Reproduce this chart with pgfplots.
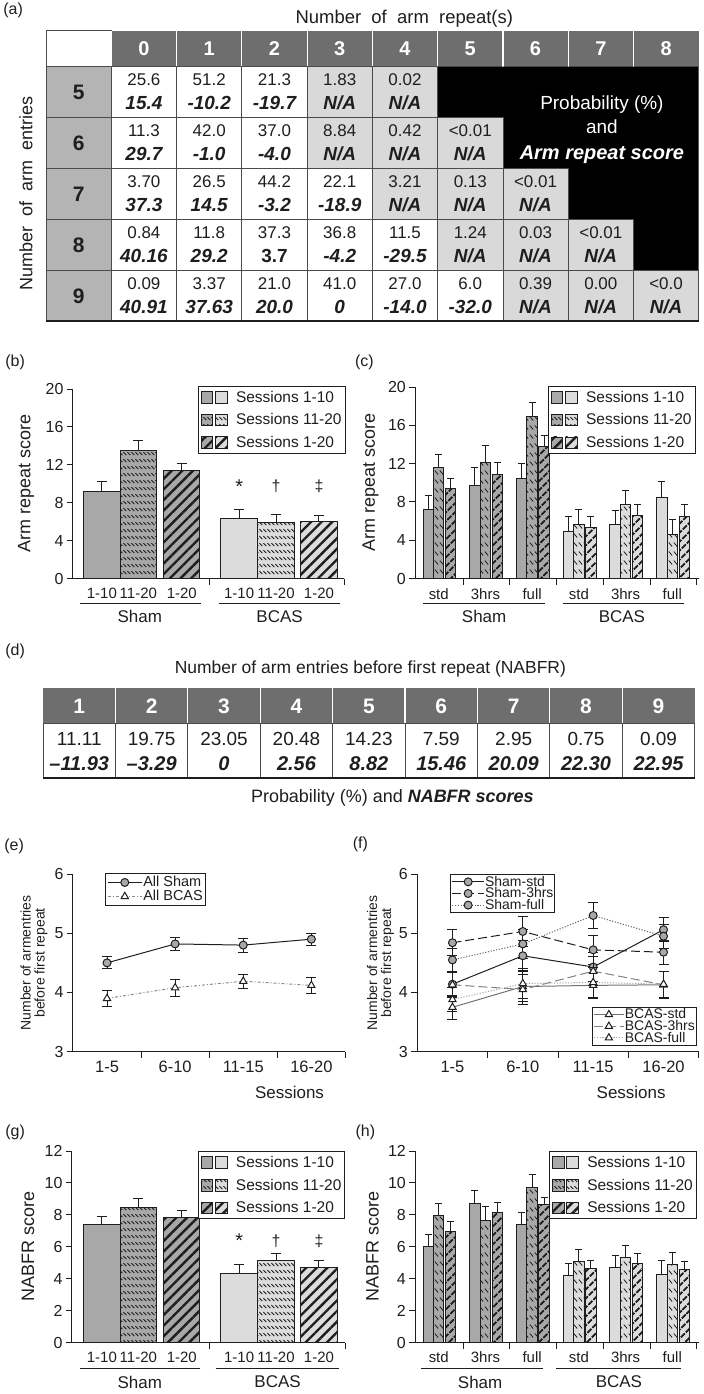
\documentclass[border=0pt]{standalone}
\usepackage{fontspec}
\setmainfont{Liberation Sans}
\usepackage{graphicx}
\usepackage{pgfplots}
\pgfplotsset{compat=1.18}
\usetikzlibrary{patterns,patterns.meta}

\definecolor{shamgray}{HTML}{A8A8A8}
\definecolor{bcasgray}{HTML}{DCDCDC}
\definecolor{hdrgray}{HTML}{6E6E6E}
\definecolor{rowgray}{HTML}{B4B4B4}
\definecolor{nagray}{HTML}{D9D9D9}
\definecolor{ink}{HTML}{1E1E1E}

\tikzdeclarepattern{name=dashhatch, type=uncolored,
  bounding box={(0pt,0pt) and (4pt,7pt)}, tile size={(4pt,7pt)},
  code={\draw[line width=0.8pt] (0.5pt,5.8pt) -- (3.3pt,3pt);}}
\tikzdeclarepattern{name=dashhatchN, type=uncolored,
  bounding box={(0pt,0pt) and (5pt,9pt)}, tile size={(5pt,9pt)},
  code={\draw[line width=0.8pt] (0.8pt,7.5pt) -- (4.2pt,3.5pt);}}

\newcommand\fsz[1]{\fontsize{#1}{#1}\selectfont}
\newcommand\aReg{\fsz{17}}
\newcommand\aBI{\fsz{19}\bfseries\itshape}

\tikzset{
  h2/.style={postaction={pattern=dashhatch, pattern color=ink}},
  h2n/.style={postaction={pattern=dashhatchN, pattern color=ink}},
  h3/.style={postaction={pattern={Lines[angle=45,distance=7.5pt,line width=2.4pt]}, pattern color=ink}},
  h3n/.style={postaction={pattern={Lines[angle=45,distance=6.5pt,line width=2.2pt]}, pattern color=ink}},
}

\pgfplotsset{
  /pgf/number format/assume math mode=true,
  base/.style={scale only axis, clip=false, at={(0pt,0pt)}, anchor=south west,
    axis x line*=bottom, axis y line*=left,
    axis line style={-, line width=1pt, draw=ink},
    tick align=outside, major tick length=6pt,
    ytick style={line width=1pt, draw=ink},
    xtick style={draw=none},
    tick label style={font=\fsz{16}, text=ink},
    ylabel style={font=\fsz{18}, text=ink},
    legend cell align=left},
  bl/.style={ybar, bar shift=0pt, draw=ink, line width=1pt, forget plot,
    error bars/y dir=plus, error bars/y explicit,
    error bars/error bar style={line width=1pt, draw=ink, solid},
    error bars/error mark options={rotate=90, mark size=#1, line width=1pt, draw=ink, solid}},
  eb/.style={error bars/y dir=both, error bars/y explicit,
    error bars/error bar style={line width=1pt, draw=#1, solid},
    error bars/error mark options={rotate=90, mark size=5pt, line width=1pt, draw=#1, solid}},
  barleg/.style={legend style={draw=ink, line width=1pt, font=\fsz{15.5}, text=ink,
    inner xsep=2pt, inner ysep=3pt, row sep=7pt, nodes={inner sep=1.5pt},
    /tikz/every odd column/.append style={column sep=7pt}}},
}

\newcommand\legsw[1]{\addlegendimage{legend image code/.code={%
   \draw[fill=shamgray,draw=ink,line width=0.9pt,#1] (0pt,-5.8pt) rectangle (11.7pt,5.8pt);
   \draw[fill=bcasgray,draw=ink,line width=0.9pt,#1] (14.3pt,-5.8pt) rectangle (26pt,5.8pt);}}}

\newcommand\acell[5]{%
  \draw[fill=#3, draw=ink!80, line width=0.8pt] ({43+65.4*#1},{-64-51*#2}) rectangle ++(65.4,-51);
  \node[anchor=base, font=\aReg, text=ink, inner sep=0pt] at ({75.7+65.4*#1},{-64-51*#2-19}) {#4};
  \node[anchor=base, font=\aBI, text=ink, inner sep=0pt] at ({75.7+65.4*#1},{-64-51*#2-43}) {#5};
}

\begin{document}
\begin{tikzpicture}[x=1pt,y=1pt]
\path (0,0) rectangle (702,-1394);

% ================= (a) =================
\node[font=\fsz{16}, text=ink] at (10,-8) {(a)};
\node[anchor=base, font=\fsz{18.5}, text=ink] at (402,-21) {Number \ of \ arm \ repeat(s)};
\node[rotate=90, font=\fsz{18}, text=ink] at (23,-191) {Number \ of \ arm \ entries};
\fill[hdrgray] (108.4,-28) rectangle (697,-64);
\draw[ink!80, line width=0.8pt] (43,-28) rectangle (108.4,-64);
\foreach \i in {0,...,8} {
  \draw[white, line width=1.2pt] ({108.4+65.4*\i},-28) -- ++(0,-36);
  \node[anchor=base, text=white, font=\fsz{20}\bfseries, inner sep=0pt] at ({141.1+65.4*\i},-53) {\i};
}
\foreach \r/\lab in {0/5,1/6,2/7,3/8,4/9} {
  \draw[fill=rowgray, draw=ink!80, line width=0.8pt] (43,{-64-51*\r}) rectangle (108.4,{-115-51*\r});
  \node[anchor=base, font=\fsz{21}\bfseries, text=ink, inner sep=0pt] at (75.7,{-64-51*\r-33}) {\lab};
}
\fill[black] (435.4,-64) -- (697,-64) -- (697,-268) -- (631.6,-268) -- (631.6,-217) -- (566.2,-217)
  -- (566.2,-166) -- (500.8,-166) -- (500.8,-115) -- (435.4,-115) -- cycle;
\node[anchor=base, text=white, font=\fsz{19}] at (600,-107) {Probability (\%)};
\node[anchor=base, text=white, font=\fsz{19}] at (600,-131) {and};
\node[anchor=base, text=white, font=\fsz{20}\bfseries\itshape] at (600,-157) {Arm repeat score};
\acell{1}{0}{white}{25.6}{15.4}
\acell{2}{0}{white}{51.2}{-10.2}
\acell{3}{0}{white}{21.3}{-19.7}
\acell{4}{0}{nagray}{1.83}{N/A}
\acell{5}{0}{nagray}{0.02}{N/A}
\acell{1}{1}{white}{11.3}{29.7}
\acell{2}{1}{white}{42.0}{-1.0}
\acell{3}{1}{white}{37.0}{-4.0}
\acell{4}{1}{nagray}{8.84}{N/A}
\acell{5}{1}{nagray}{0.42}{N/A}
\acell{6}{1}{nagray}{<0.01}{N/A}
\acell{1}{2}{white}{3.70}{37.3}
\acell{2}{2}{white}{26.5}{14.5}
\acell{3}{2}{white}{44.2}{-3.2}
\acell{4}{2}{white}{22.1}{-18.9}
\acell{5}{2}{nagray}{3.21}{N/A}
\acell{6}{2}{nagray}{0.13}{N/A}
\acell{7}{2}{nagray}{<0.01}{N/A}
\acell{1}{3}{white}{0.84}{40.16}
\acell{2}{3}{white}{11.8}{29.2}
\acell{3}{3}{white}{37.3}{\upshape 3.7}
\acell{4}{3}{white}{36.8}{-4.2}
\acell{5}{3}{white}{11.5}{-29.5}
\acell{6}{3}{nagray}{1.24}{N/A}
\acell{7}{3}{nagray}{0.03}{N/A}
\acell{8}{3}{nagray}{<0.01}{N/A}
\acell{1}{4}{white}{0.09}{40.91}
\acell{2}{4}{white}{3.37}{37.63}
\acell{3}{4}{white}{21.0}{20.0}
\acell{4}{4}{white}{41.0}{0}
\acell{5}{4}{white}{27.0}{-14.0}
\acell{6}{4}{white}{6.0}{-32.0}
\acell{7}{4}{nagray}{0.39}{N/A}
\acell{8}{4}{nagray}{0.00}{N/A}
\acell{9}{4}{nagray}{<0.0}{N/A}
\draw[ink, line width=1.6pt] (43,-319) -- (697,-319);

% ================= (b) =================
\node[font=\fsz{16}, text=ink] at (12,-360) {(b)};
\begin{scope}[shift={(70pt,-577pt)}]
\begin{axis}[base, width=272pt, height=190pt,
  xmin=70, xmax=342, ymin=0, ymax=20, ytick={0,4,8,12,16,20},
  xtick={99,135.5,179,236.5,273.5,316.5},
  xticklabels={1-10,11-20,1-20,1-10,11-20,1-20},
  xticklabel style={font=\fsz{15}},
  ylabel={Arm repeat score}, ylabel style={at={(axis description cs:-0.173,0.5)}, anchor=center},
  barleg, legend style={at={(1.004,1.016)}, anchor=north east},
  bar width=36.5]
\addplot[fill=shamgray, bl=5pt] coordinates {(99,9.2) +- (0,1.0)};
\addplot[fill=shamgray, h2, bl=5pt] coordinates {(135.5,13.55) +- (0,1.0)};
\addplot[fill=shamgray, h3, bl=5pt] coordinates {(179,11.4) +- (0,0.7)};
\addplot[fill=bcasgray, bl=5pt] coordinates {(236.5,6.3) +- (0,1.0)};
\addplot[fill=bcasgray, h2, bl=5pt] coordinates {(273.5,5.9) +- (0,0.9)};
\addplot[fill=bcasgray, h3, bl=5pt] coordinates {(316.5,6.0) +- (0,0.7)};
\legsw{}\addlegendentry{Sessions 1-10}
\legsw{h2}\addlegendentry{Sessions 11-20}
\legsw{h3}\addlegendentry{Sessions 1-20}
\node[anchor=base, font=\fsz{20}, text=ink] at (axis cs:236.5,9.0) {*};
\node[anchor=base, font=\fsz{16}, text=ink] at (axis cs:273.5,9.2) {†};
\node[anchor=base, font=\fsz{16}, text=ink] at (axis cs:316.5,9.2) {‡};
\end{axis}
\end{scope}
\draw[ink, line width=1pt] (207,-577) -- (207,-583) (342,-577) -- (342,-583);
\draw[ink, line width=1pt] (77,-602) -- (198,-602) (216,-602) -- (338,-602);
\node[font=\fsz{17}, text=ink] at (137,-615) {Sham};
\node[font=\fsz{17}, text=ink] at (277,-615) {BCAS};

% ================= (c) =================
\node[font=\fsz{16}, text=ink] at (362,-360) {(c)};
\begin{scope}[shift={(413pt,-577pt)}]
\begin{axis}[base, width=284pt, height=192pt,
  xmin=413, xmax=697, ymin=0, ymax=20, ytick={0,4,8,12,16,20},
  xtick={436.5,483.3,530.1,576.9,623.7,670.5},
  xticklabels={std,3hrs,full,std,3hrs,full},
  xticklabel style={font=\fsz{15}},
  ylabel={Arm repeat score}, ylabel style={at={(axis description cs:-0.158,0.5)}, anchor=center},
  barleg, legend style={at={(0.989,1.005)}, anchor=north east},
  bar width=10.5]
\addplot[fill=shamgray, bl=3.5pt] coordinates {(426,7.2) +- (0,1.5) (472.8,9.7) +- (0,1.9) (519.6,10.5) +- (0,1.5)};
\addplot[fill=shamgray, h2n, bl=3.5pt] coordinates {(436.5,11.6) +- (0,1.4) (483.3,12.1) +- (0,1.8) (530.1,16.9) +- (0,1.5)};
\addplot[fill=shamgray, h3n, bl=3.5pt] coordinates {(448.5,9.4) +- (0,1.1) (495.3,10.9) +- (0,1.2) (542.1,13.75) +- (0,1.15)};
\addplot[fill=bcasgray, bl=3.5pt] coordinates {(566.4,4.9) +- (0,1.6) (613.2,5.6) +- (0,1.5) (660,8.5) +- (0,1.6)};
\addplot[fill=bcasgray, h2n, bl=3.5pt] coordinates {(576.9,5.6) +- (0,1.6) (623.7,7.7) +- (0,1.5) (670.5,4.65) +- (0,1.55)};
\addplot[fill=bcasgray, h3n, bl=3.5pt] coordinates {(588.9,5.3) +- (0,1.2) (635.7,6.6) +- (0,1.1) (682.5,6.5) +- (0,1.2)};
\legsw{}\addlegendentry{Sessions 1-10}
\legsw{h2}\addlegendentry{Sessions 11-20}
\legsw{h3}\addlegendentry{Sessions 1-20}
\end{axis}
\end{scope}
\draw[ink, line width=1pt] (461,-577) -- (461,-583) (507.8,-577) -- (507.8,-583) (554.6,-577) -- (554.6,-583)
  (601.4,-577) -- (601.4,-583) (648.2,-577) -- (648.2,-583) (695,-577) -- (695,-583);
\draw[ink, line width=1pt] (421,-602) -- (543,-602) (561,-602) -- (682,-602);
\node[font=\fsz{17}, text=ink] at (482,-615) {Sham};
\node[font=\fsz{17}, text=ink] at (620,-615) {BCAS};

% ================= (d) =================
\node[font=\fsz{16}, text=ink] at (12,-650) {(d)};
\node[font=\fsz{17.5}, text=ink] at (368,-668) {Number of arm entries before first repeat (NABFR)};
\fill[hdrgray] (40,-687) rectangle (693,-722);
\draw[ink!80, line width=0.8pt] (40,-722) rectangle (693,-777);
\foreach \i/\pp/\ss in {1/11.11/–11.93, 2/19.75/–3.29, 3/23.05/0, 4/20.48/2.56, 5/14.23/8.82,
   6/7.59/15.46, 7/2.95/20.09, 8/0.75/22.30, 9/0.09/22.95} {
  \node[anchor=base, text=white, font=\fsz{21}\bfseries, inner sep=0pt] at ({3.725+72.55*\i},-712) {\i};
  \node[anchor=base, text=ink, font=\fsz{19}, inner sep=0pt] at ({3.725+72.55*\i},-744) {\pp};
  \node[anchor=base, text=ink, font=\fsz{20}\bfseries\itshape, inner sep=0pt] at ({3.725+72.55*\i},-769) {\ss};
}
\foreach \i in {1,...,8} {
  \draw[white, line width=1.2pt] ({40+72.55*\i},-687) -- ++(0,-35);
  \draw[ink!80, line width=0.8pt] ({40+72.55*\i},-722) -- ++(0,-55);
}
\draw[ink, line width=1.6pt] (40,-777) -- (693,-777);
\node[font=\fsz{18}, text=ink] at (390,-797) {Probability (\%) and \textbf{\textit{NABFR scores}}};

% ================= (e) =================
\node[font=\fsz{16}, text=ink] at (11,-845) {(e)};
\begin{scope}[shift={(70pt,-1051pt)}]
\begin{axis}[base, width=273pt, height=178pt,
  xmin=0, xmax=4, ymin=3, ymax=6, ytick={3,4,5,6},
  xtick={0.5,1.5,2.5,3.5}, xticklabels={1-5,6-10,11-15,16-20}, xticklabel style={font=\fsz{16.5}},
  ylabel={Number of armentries\\before first repeat},
  ylabel style={align=center, font=\fsz{14}, at={(axis description cs:-0.143,0.5)}, anchor=center},
  xlabel={Sessions}, xlabel style={font=\fsz{17}, text=ink, at={(axis description cs:0.795,0)}, anchor=center, yshift=-41pt},
  legend style={at={(0.117,1.006)}, anchor=north west, draw=ink, line width=1pt, font=\fsz{14.5}, text=ink,
    row sep=0pt, inner sep=2pt, nodes={inner sep=1pt}},
  legend image code/.code={\draw[mark repeat=2,mark phase=2,#1] plot coordinates {(0pt,0pt) (17pt,0pt) (34pt,0pt)};}]
\addplot[ink, line width=1pt, mark=*, mark size=4pt, mark options={fill=shamgray, draw=ink, solid}, eb=ink]
  coordinates {(0.5,4.5) +- (0,0.1) (1.5,4.82) +- (0,0.11) (2.5,4.8) +- (0,0.12) (3.5,4.9) +- (0,0.1)};
\addlegendentry{All Sham}
\addplot[black!45, line width=1pt, dash dot, mark=triangle*, mark size=4.2pt, mark options={fill=white, draw=ink, solid}, eb=ink]
  coordinates {(0.5,3.9) +- (0,0.14) (1.5,4.08) +- (0,0.14) (2.5,4.19) +- (0,0.12) (3.5,4.12) +- (0,0.13)};
\addlegendentry{All BCAS}
\end{axis}
\end{scope}
\draw[ink, line width=1pt] (138.25,-1051) -- ++(0,-6) (206.5,-1051) -- ++(0,-6) (274.75,-1051) -- ++(0,-6) (343,-1051) -- ++(0,-6);

% ================= (f) =================
\node[font=\fsz{16}, text=ink] at (358,-843) {(f)};
\begin{scope}[shift={(415pt,-1051pt)}]
\begin{axis}[base, width=282pt, height=178pt,
  xmin=0, xmax=4, ymin=3, ymax=6, ytick={3,4,5,6},
  xtick={0.5,1.5,2.5,3.5}, xticklabels={1-5,6-10,11-15,16-20}, xticklabel style={font=\fsz{16.5}},
  ylabel={Number of armentries\\before first repeat},
  ylabel style={align=center, font=\fsz{14}, at={(axis description cs:-0.131,0.5)}, anchor=center},
  xlabel={Sessions}, xlabel style={font=\fsz{17}, text=ink, at={(axis description cs:0.76,0)}, anchor=center, yshift=-41pt},
  legend style={at={(0.117,1.0)}, anchor=north west, draw=ink, line width=1pt, font=\fsz{14}, text=ink,
    row sep=-1pt, inner sep=1pt, nodes={inner sep=0.5pt}},
  legend image code/.code={\draw[mark repeat=2,mark phase=2,#1] plot coordinates {(0pt,0pt) (16pt,0pt) (32pt,0pt)};}]
\addplot[ink, line width=1pt, solid, mark=*, mark size=4pt, mark options={fill=shamgray, draw=ink, solid}, eb=ink]
  coordinates {(0.5,4.14) +- (0,0.2) (1.5,4.62) +- (0,0.25) (2.5,4.43) +- (0,0.25) (3.5,5.06) +- (0,0.2)};
\addlegendentry{Sham-std}
\addplot[ink, line width=1pt, dash pattern=on 9pt off 4pt, mark=*, mark size=4pt, mark options={fill=shamgray, draw=ink, solid}, eb=ink]
  coordinates {(0.5,4.84) +- (0,0.22) (1.5,5.03) +- (0,0.25) (2.5,4.72) +- (0,0.25) (3.5,4.68) +- (0,0.2)};
\addlegendentry{Sham-3hrs}
\addplot[black!60, line width=1pt, dash pattern=on 1.2pt off 1.6pt, mark=*, mark size=4pt, mark options={fill=shamgray, draw=ink, solid}, eb=ink]
  coordinates {(0.5,4.55) +- (0,0.2) (1.5,4.82) +- (0,0.25) (2.5,5.3) +- (0,0.22) (3.5,4.95) +- (0,0.2)};
\addlegendentry{Sham-full}
\end{axis}
\begin{axis}[base, hide axis, width=282pt, height=178pt,
  xmin=0, xmax=4, ymin=3, ymax=6,
  legend style={at={(0.993,0.034)}, anchor=south east, draw=ink, line width=1pt, font=\fsz{14}, text=ink,
    row sep=-1pt, inner sep=1pt, nodes={inner sep=0.5pt}},
  legend image code/.code={\draw[mark repeat=2,mark phase=2,#1] plot coordinates {(0pt,0pt) (15pt,0pt) (30pt,0pt)};}]
\addplot[black!55, line width=1pt, solid, mark=triangle*, mark size=4.2pt, mark options={fill=white, draw=ink, solid}, eb=ink]
  coordinates {(0.5,3.75) +- (0,0.2) (1.5,4.1) +- (0,0.25) (2.5,4.12) +- (0,0.22) (3.5,4.13) +- (0,0.23)};
\addlegendentry{BCAS-std}
\addplot[black!50, line width=1pt, dash pattern=on 9pt off 4pt, mark=triangle*, mark size=4.2pt, mark options={fill=white, draw=ink, solid}, eb=ink]
  coordinates {(0.5,4.13) +- (0,0.22) (1.5,4.05) +- (0,0.25) (2.5,4.36) +- (0,0.25) (3.5,4.13) +- (0,0.22)};
\addlegendentry{BCAS-3hrs}
\addplot[black!35, line width=1pt, dash pattern=on 1.2pt off 1.6pt, mark=triangle*, mark size=4.2pt, mark options={fill=white, draw=ink, solid}, eb=ink]
  coordinates {(0.5,3.88) +- (0,0.2) (1.5,4.15) +- (0,0.25) (2.5,4.17) +- (0,0.25) (3.5,4.14) +- (0,0.22)};
\addlegendentry{BCAS-full}
\end{axis}
\end{scope}
\draw[ink, line width=1pt] (485.5,-1051) -- ++(0,-6) (556,-1051) -- ++(0,-6) (626.5,-1051) -- ++(0,-6) (697,-1051) -- ++(0,-6);

% ================= (g) =================
\node[font=\fsz{16}, text=ink] at (12,-1132) {(g)};
\begin{scope}[shift={(69pt,-1342.5pt)}]
\begin{axis}[base, width=274pt, height=192pt,
  xmin=69, xmax=343, ymin=0, ymax=12, ytick={0,2,4,6,8,10,12},
  xtick={99,135.5,179,236.5,273.5,316.5},
  xticklabels={1-10,11-20,1-20,1-10,11-20,1-20},
  xticklabel style={font=\fsz{15}},
  ylabel={NABFR score}, ylabel style={at={(axis description cs:-0.161,0.5)}, anchor=center},
  barleg, legend style={at={(1.0,0.999)}, anchor=north east},
  bar width=36.5]
\addplot[fill=shamgray, bl=5pt] coordinates {(99,7.4) +- (0,0.5)};
\addplot[fill=shamgray, h2, bl=5pt] coordinates {(135.5,8.45) +- (0,0.6)};
\addplot[fill=shamgray, h3, bl=5pt] coordinates {(179,7.82) +- (0,0.46)};
\addplot[fill=bcasgray, bl=5pt] coordinates {(236.5,4.33) +- (0,0.55)};
\addplot[fill=bcasgray, h2, bl=5pt] coordinates {(273.5,5.12) +- (0,0.46)};
\addplot[fill=bcasgray, h3, bl=5pt] coordinates {(316.5,4.7) +- (0,0.46)};
\legsw{}\addlegendentry{Sessions 1-10}
\legsw{h2}\addlegendentry{Sessions 11-20}
\legsw{h3}\addlegendentry{Sessions 1-20}
\node[anchor=base, font=\fsz{20}, text=ink] at (axis cs:236.5,5.95) {*};
\node[anchor=base, font=\fsz{16}, text=ink] at (axis cs:273.5,6.05) {†};
\node[anchor=base, font=\fsz{16}, text=ink] at (axis cs:316.5,6.05) {‡};
\end{axis}
\end{scope}
\draw[ink, line width=1pt] (207,-1342.5) -- ++(0,-6) (343,-1342.5) -- ++(0,-6);
\draw[ink, line width=1pt] (77,-1368) -- (197,-1368) (213,-1368) -- (337,-1368);
\node[font=\fsz{17}, text=ink] at (137,-1382) {Sham};
\node[font=\fsz{17}, text=ink] at (275,-1382) {BCAS};

% ================= (h) =================
\node[font=\fsz{16}, text=ink] at (363,-1132) {(h)};
\begin{scope}[shift={(413pt,-1342.5pt)}]
\begin{axis}[base, width=284pt, height=192pt,
  xmin=413, xmax=697, ymin=0, ymax=12, ytick={0,2,4,6,8,10,12},
  xtick={436.5,483.3,530.1,576.9,623.7,670.5},
  xticklabels={std,3hrs,full,std,3hrs,full},
  xticklabel style={font=\fsz{15}},
  ylabel={NABFR score}, ylabel style={at={(axis description cs:-0.151,0.5)}, anchor=center},
  barleg, legend style={at={(0.993,0.999)}, anchor=north east},
  bar width=10.5]
\addplot[fill=shamgray, bl=3.5pt] coordinates {(426,6.0) +- (0,0.78) (472.8,8.7) +- (0,0.8) (519.6,7.4) +- (0,0.78)};
\addplot[fill=shamgray, h2n, bl=3.5pt] coordinates {(436.5,7.97) +- (0,0.73) (483.3,7.63) +- (0,0.87) (530.1,9.74) +- (0,0.79)};
\addplot[fill=shamgray, h3n, bl=3.5pt] coordinates {(448.5,6.95) +- (0,0.62) (495.3,8.18) +- (0,0.58) (542.1,8.62) +- (0,0.49)};
\addplot[fill=bcasgray, bl=3.5pt] coordinates {(566.4,4.2) +- (0,0.75) (613.2,4.7) +- (0,0.77) (660,4.28) +- (0,0.88)};
\addplot[fill=bcasgray, h2n, bl=3.5pt] coordinates {(576.9,5.05) +- (0,0.8) (623.7,5.3) +- (0,0.78) (670.5,4.9) +- (0,0.75)};
\addplot[fill=bcasgray, h3n, bl=3.5pt] coordinates {(588.9,4.62) +- (0,0.5) (635.7,4.95) +- (0,0.6) (682.5,4.6) +- (0,0.5)};
\legsw{}\addlegendentry{Sessions 1-10}
\legsw{h2}\addlegendentry{Sessions 11-20}
\legsw{h3}\addlegendentry{Sessions 1-20}
\end{axis}
\end{scope}
\draw[ink, line width=1pt] (461,-1342.5) -- ++(0,-6) (507.8,-1342.5) -- ++(0,-6) (554.6,-1342.5) -- ++(0,-6)
  (601.4,-1342.5) -- ++(0,-6) (648.2,-1342.5) -- ++(0,-6) (695,-1342.5) -- ++(0,-6);
\draw[ink, line width=1pt] (419,-1368) -- (541,-1368) (554,-1368) -- (679,-1368);
\node[font=\fsz{17}, text=ink] at (478,-1382) {Sham};
\node[font=\fsz{17}, text=ink] at (617,-1382) {BCAS};
\end{tikzpicture}
\end{document}
